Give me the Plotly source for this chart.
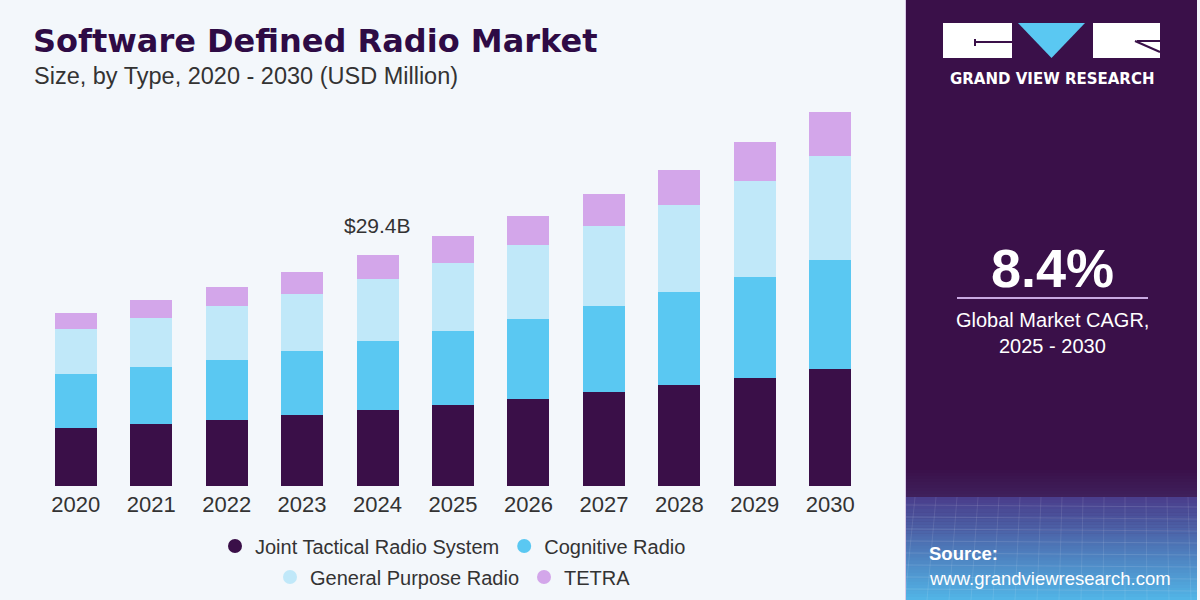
import plotly.graph_objects as go

# ---------------- Data (USD Million) ----------------
years = ["2020", "2021", "2022", "2023", "2024", "2025", "2026", "2027", "2028", "2029", "2030"]
joint_tactical = [7380, 7890, 8400, 9040, 9670, 10310, 11070, 11960, 12850, 13750, 14890]
cognitive = [6870, 7250, 7640, 8150, 8780, 9420, 10180, 10950, 11840, 12850, 13870]
general_purpose = [5730, 6240, 6870, 7250, 7890, 8650, 9420, 10180, 11070, 12220, 13240]
tetra = [2040, 2290, 2420, 2800, 3060, 3440, 3690, 4070, 4450, 4960, 5600]

series_names = ["Joint Tactical Radio System", "Cognitive Radio", "General Purpose Radio", "TETRA"]
series_values = [joint_tactical, cognitive, general_purpose, tetra]
series_colors = ["#3a0f48", "#5ac8f2", "#c0e8f9", "#d3a6ea"]

highlight_year = "2024"
highlight_label = "$29.4B"
cagr_value = "8.4%"
cagr_text = "Global Market CAGR,"
cagr_period = "2025 - 2030"
title_text = "Software Defined Radio Market"
subtitle_text = "Size, by Type, 2020 - 2030 (USD Million)"

# ---------------- Layout geometry ----------------
W, H = 1200, 600
ML, MR, MT, MB = 38, 332, 100, 114
PW, PH = W - ML - MR, H - MT - MB


def px(x):
    return (x - ML) / PW


def py(y):
    return (H - MB - y) / PH


BG = "#f3f7fb"
PANEL = "#3a1049"
TXT = "#333333"
FONT = "Liberation Sans, Arial, sans-serif"

fig = go.Figure()

for name, vals, col in zip(series_names, series_values, series_colors):
    fig.add_trace(go.Bar(x=years, y=vals, name=name, marker=dict(color=col, line=dict(width=0)),
                         showlegend=False))

# legend entries as circles (two centered rows)
for i, (name, col) in enumerate(zip(series_names, series_colors)):
    fig.add_trace(go.Scatter(x=[None], y=[None], mode="markers", name=name,
                             marker=dict(symbol="circle", size=14, color=col),
                             legend="legend" if i in (0, 1) else "legend2"))

totals = [sum(v) for v in zip(*series_values)]
hi = years.index(highlight_year)

shapes = []
annotations = []

# right panel
shapes.append(dict(type="rect", xref="paper", yref="paper", x0=px(906), x1=px(1197), y0=py(600), y1=py(0),
                   fillcolor=PANEL, line=dict(width=0), layer="below"))
shapes.append(dict(type="line", xref="paper", yref="paper", x0=px(905.5), x1=px(905.5), y0=py(600), y1=py(0),
                   line=dict(color="#d9c8e6", width=1), layer="below"))
# slightly lighter band
n1 = 10
for k in range(n1):
    y0 = 467 + k * 3
    t = k / n1
    r = int(0x3a + (0x40 - 0x3a) * t); g = int(0x10 + (0x22 - 0x10) * t); b = int(0x49 + (0x5e - 0x49) * t)
    shapes.append(dict(type="rect", xref="paper", yref="paper", x0=px(906), x1=px(1197), y0=py(y0 + 3), y1=py(y0),
                       fillcolor=f"rgb({r},{g},{b})", line=dict(width=0), layer="below"))
# gradient bottom
n2 = 34
c0 = (0x4a, 0x3e, 0x8c)
c1 = (0x52, 0xb4, 0xe6)
for k in range(n2):
    y0 = 497 + k * 103 / n2
    t = k / (n2 - 1)
    c = tuple(int(c0[j] + (c1[j] - c0[j]) * t) for j in range(3))
    shapes.append(dict(type="rect", xref="paper", yref="paper", x0=px(906), x1=px(1197),
                       y0=py(y0 + 103 / n2 + 0.5), y1=py(y0),
                       fillcolor=f"rgb({c[0]},{c[1]},{c[2]})", line=dict(width=0), layer="below"))
# faint grid texture
for k in range(8):
    yy = 505 + k * 12
    shapes.append(dict(type="line", xref="paper", yref="paper", x0=px(906), x1=px(1197), y0=py(yy), y1=py(yy + 2),
                       line=dict(color="rgba(255,255,255,0.12)", width=1), layer="below"))
for k in range(14):
    xx = 915 + k * 21
    shapes.append(dict(type="line", xref="paper", yref="paper", x0=px(xx), x1=px(xx - 10 + k), y0=py(497), y1=py(600),
                       line=dict(color="rgba(255,255,255,0.10)", width=1), layer="below"))

# logo
shapes.append(dict(type="rect", xref="paper", yref="paper", x0=px(943), x1=px(1012), y0=py(58), y1=py(23),
                   fillcolor="white", line=dict(width=0)))
shapes.append(dict(type="path", xref="paper", yref="paper",
                   path=f"M {px(1018)},{py(23)} L {px(1085)},{py(23)} L {px(1051.5)},{py(58)} Z",
                   fillcolor="#5ac8f2", line=dict(width=0)))
shapes.append(dict(type="rect", xref="paper", yref="paper", x0=px(1093), x1=px(1160), y0=py(58), y1=py(23),
                   fillcolor="white", line=dict(width=0)))
shapes.append(dict(type="line", xref="paper", yref="paper", x0=px(975), x1=px(1012), y0=py(42), y1=py(42),
                   line=dict(color=PANEL, width=2)))
shapes.append(dict(type="line", xref="paper", yref="paper", x0=px(975), x1=px(975), y0=py(39), y1=py(46),
                   line=dict(color=PANEL, width=2)))
shapes.append(dict(type="line", xref="paper", yref="paper", x0=px(1137), x1=px(1160), y0=py(41), y1=py(41),
                   line=dict(color=PANEL, width=2)))
shapes.append(dict(type="line", xref="paper", yref="paper", x0=px(1135), x1=px(1160), y0=py(41), y1=py(52),
                   line=dict(color=PANEL, width=2)))
# CAGR divider
shapes.append(dict(type="line", xref="paper", yref="paper", x0=px(957), x1=px(1148), y0=py(298), y1=py(298),
                   line=dict(color="#c9a9e2", width=2)))


def ann(text, x, y, size, color, xanchor="left", bold=False, family=FONT, weight=None):
    d = dict(text=text, xref="paper", yref="paper", x=px(x), y=py(y), xanchor=xanchor, yanchor="middle",
             showarrow=False, font=dict(size=size, color=color, family=family))
    if bold:
        d["font"]["weight"] = weight or "bold"
    annotations.append(d)


ann(title_text, 31, 41, 32, "#2e0b45", bold=True, family="DejaVu Sans, sans-serif")
ann(subtitle_text, 32, 76, 23.5, TXT)
ann("GRAND VIEW RESEARCH", 1052, 79, 15, "#ffffff", xanchor="center", bold=True, family="DejaVu Sans, sans-serif")
ann(cagr_value, 1052, 268, 54, "#ffffff", xanchor="center", bold=True)
ann(cagr_text, 1052, 320, 20, "#ffffff", xanchor="center")
ann(cagr_period, 1052, 346, 20, "#ffffff", xanchor="center")
ann("Source:", 927, 553, 18.5, "#ffffff", bold=True)
ann("www.grandviewresearch.com", 927, 578, 18.5, "#ffffff")

# highlight label above 2024 bar (x by category index, y in data units)
annotations.append(dict(text=highlight_label.replace("$", "&#36;"), x=(hi + 0.5) / len(years), y=totals[hi],
                        xref="paper", yref="y", xanchor="center",
                        yanchor="middle", yshift=30, showarrow=False,
                        font=dict(size=21, color=TXT, family=FONT)))

ymax = 29400 / 231 * PH

fig.update_layout(
    width=W, height=H,
    margin=dict(l=ML, r=MR, t=MT, b=MB, pad=0),
    paper_bgcolor=BG, plot_bgcolor=BG,
    barmode="stack", bargap=0.443,
    font=dict(family=FONT, color=TXT),
    xaxis=dict(type="category", range=[-0.5, 10.5], showgrid=False, zeroline=False, showline=False,
               ticks="", tickfont=dict(size=22, color=TXT, family=FONT), fixedrange=True,
               ticklabelstandoff=3, automargin=False),
    yaxis=dict(range=[0, ymax], visible=False, fixedrange=True, automargin=False),
    legend=dict(orientation="h", xref="container", yref="container", x=453 / W, y=1 - 546 / H,
                xanchor="center", yanchor="middle", bgcolor="rgba(0,0,0,0)", traceorder="normal",
                font=dict(size=20, color=TXT, family=FONT), itemwidth=30, tracegroupgap=0),
    legend2=dict(orientation="h", xref="container", yref="container", x=453 / W, y=1 - 577 / H,
                 xanchor="center", yanchor="middle", bgcolor="rgba(0,0,0,0)", traceorder="normal",
                 font=dict(size=20, color=TXT, family=FONT), itemwidth=30, tracegroupgap=0),
    shapes=shapes,
    annotations=annotations,
)

fig.write_html("out.html")
